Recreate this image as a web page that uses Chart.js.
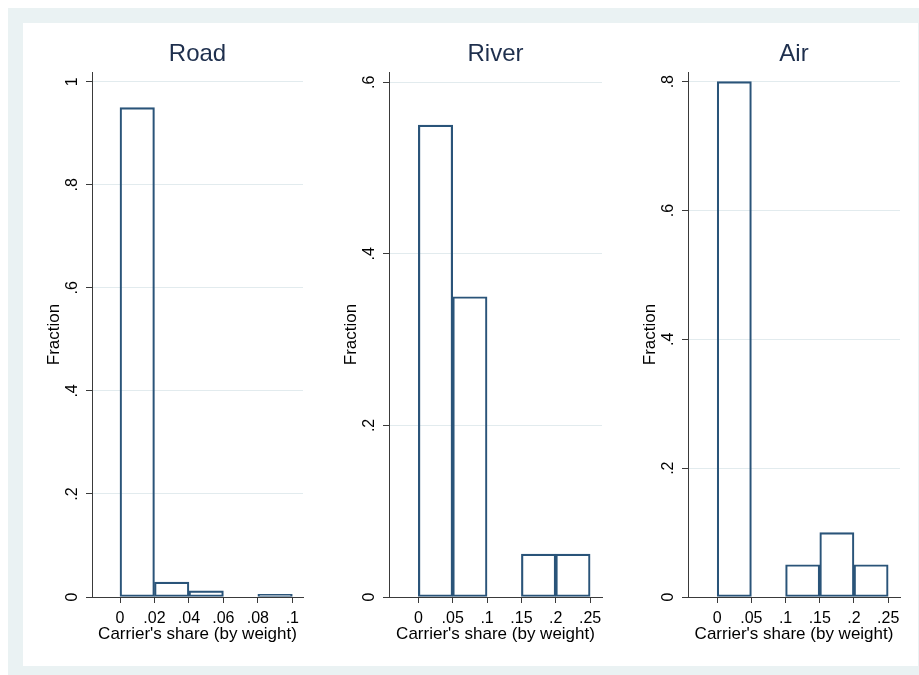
<!DOCTYPE html>
<html><head><meta charset="utf-8">
<script src="https://cdn.jsdelivr.net/npm/chart.js@4"></script>
<style>
html,body{margin:0;padding:0;background:#fff;width:919px;height:675px;overflow:hidden}
#frame{position:absolute;left:8px;top:8px;width:930px;height:690px;background:#eaf2f3}
#inner{position:absolute;left:23px;top:23px;width:895px;height:643px;background:#fff}
canvas{position:absolute;top:23px}
</style></head><body>
<div id="frame"></div><div id="inner"></div>
<canvas id="road" width="297" height="643" style="left:23px"></canvas>
<canvas id="river" width="297" height="643" style="left:320px"></canvas>
<canvas id="air" width="301" height="643" style="left:617px"></canvas>
<script>
// ---- data ----
const panelTitles = ['Road', 'River', 'Air'];
const xAxisTitle = "Carrier's share (by weight)";
const yAxisTitle = 'Fraction';

const roadBinStart = [0, 0.02, 0.04, 0.06, 0.08];
const roadBinWidth = 0.02;
const roadFraction = [0.95, 0.029, 0.012, 0, 0.005];
const roadTicksX = [0, 0.02, 0.04, 0.06, 0.08, 0.1];
const roadTicksY = [0, 0.2, 0.4, 0.6, 0.8, 1];

const riverBinStart = [0, 0.05, 0.1, 0.15, 0.2];
const riverBinWidth = 0.05;
const riverFraction = [0.55, 0.35, 0, 0.05, 0.05];
const riverTicksX = [0, 0.05, 0.1, 0.15, 0.2, 0.25];
const riverTicksY = [0, 0.2, 0.4, 0.6];

const airBinStart = [0, 0.05, 0.1, 0.15, 0.2];
const airBinWidth = 0.05;
const airFraction = [0.8, 0, 0.05, 0.1, 0.05];
const airTicksX = [0, 0.05, 0.1, 0.15, 0.2, 0.25];
const airTicksY = [0, 0.2, 0.4, 0.6, 0.8];

// ---- styling ----
const FONT = "'Liberation Sans', Arial, sans-serif";
const AXIS = '#3a3a3a';
const GRID = '#e2ebee';
const BAR = '#2a5479';

function fmt(v) {
  const s = String(+Number(v).toFixed(4));
  return s.replace(/^0\./, '.');
}

function makePanel(id, title, binStart, binWidth, fraction, xTicks, yTicks, xMin, xMax, yMax, yWidth, padRight) {
  const pts = binStart.map((s, i) => ({ x: s + binWidth / 2, y: fraction[i] }));
  new Chart(document.getElementById(id), {
    type: 'bar',
    data: { datasets: [{
      data: pts,
      backgroundColor: 'rgba(255,255,255,0)',
      borderColor: BAR,
      borderWidth: 1.5,
      borderSkipped: false,
      barPercentage: 1,
      categoryPercentage: 1
    }] },
    options: {
      responsive: false, animation: false, devicePixelRatio: 1,
      layout: { padding: { left: 0, right: padRight, top: 0, bottom: 0 } },
      plugins: {
        legend: { display: false },
        tooltip: { enabled: false },
        title: { display: true, text: title, fullSize: false, color: '#1e2f4d',
                 font: { family: FONT, size: 24, weight: 'normal' }, padding: { top: 17.2, bottom: 3 } }
      },
      scales: {
        x: {
          type: 'linear', min: xMin, max: xMax, offset: false,
          afterBuildTicks: a => { a.ticks = xTicks.map(v => ({ value: v })); },
          afterFit: a => { a.height = 69; a.paddingLeft = 0; a.paddingRight = 0; },
          grid: { offset: false, drawOnChartArea: false, drawTicks: true, tickLength: 6, tickColor: AXIS, tickWidth: 1 },
          border: { display: true, color: AXIS, width: 1 },
          ticks: { callback: v => fmt(v), padding: 6, autoSkip: false, minRotation: 0, maxRotation: 0,
                   color: '#000', font: { family: FONT, size: 16 } },
          title: { display: true, text: xAxisTitle, color: '#000', font: { family: FONT, size: 17 },
                   padding: { top: 0, bottom: 21 } }
        },
        y: {
          type: 'linear', min: 0, max: yMax,
          afterBuildTicks: a => { a.ticks = yTicks.map(v => ({ value: v })); },
          afterFit: a => { a.width = yWidth; a.paddingTop = 0; a.paddingBottom = 0; },
          grid: { color: c => (c.tick && c.tick.value === 0) ? 'rgba(0,0,0,0)' : GRID,
                  lineWidth: 1, drawTicks: true, tickLength: 6, tickColor: AXIS, tickWidth: 1 },
          border: { display: true, color: AXIS, width: 1 },
          ticks: { callback: v => fmt(v), padding: 7, autoSkip: false, minRotation: 90, maxRotation: 90,
                   crossAlign: 'center', color: '#000', font: { family: FONT, size: 16 } },
          title: { display: true, text: yAxisTitle, color: '#000', font: { family: FONT, size: 17 },
                   padding: { top: yWidth - 48, bottom: 0 } }
        }
      }
    }
  });
}

makePanel('road', panelTitles[0], roadBinStart, roadBinWidth, roadFraction, roadTicksX, roadTicksY,
          -0.01625, 0.1062, 1.019, 69, 17);
makePanel('river', panelTitles[1], riverBinStart, riverBinWidth, riverFraction, riverTicksX, riverTicksY,
          -0.0427, 0.2673, 0.612, 69, 15);
makePanel('air', panelTitles[2], airBinStart, airBinWidth, airFraction, airTicksX, airTicksY,
          -0.0427, 0.2673, 0.815, 71, 18);
</script>
</body></html>
